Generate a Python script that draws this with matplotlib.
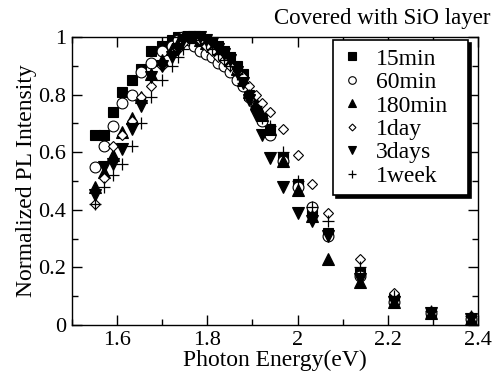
import matplotlib
matplotlib.use("Agg")
import matplotlib.pyplot as plt
from matplotlib.ticker import MultipleLocator

plt.rcParams['font.family'] = ['Liberation Serif', 'DejaVu Serif']

# Photon energy (eV) sample points
energy = [1.550, 1.570, 1.590, 1.610, 1.632, 1.653, 1.676, 1.699, 1.722, 1.734,
          1.746, 1.759, 1.771, 1.784, 1.797, 1.811, 1.824, 1.837, 1.851, 1.865,
          1.879, 1.893, 1.908, 1.922, 1.938, 1.968, 2.000, 2.033, 2.067, 2.138,
          2.214, 2.296, 2.385]

pl_15min = [0.66, 0.66, 0.74, 0.81, 0.85, 0.89, 0.95, 0.97, 0.99, 1.00,
            1.00, 1.00, 1.00, 0.99, 0.99, 0.98, 0.97, 0.95, 0.93, 0.90,
            0.87, 0.80, 0.76, 0.72, 0.68, 0.58, 0.49, 0.40, 0.32, 0.18,
            0.09, 0.04, 0.02]
pl_60min = [0.55, 0.62, 0.69, 0.77, 0.80, 0.88, 0.91, 0.95, 0.97, 0.99,
            1.00, 0.99, 0.97, 0.95, 0.94, 0.93, 0.91, 0.90, 0.88, 0.85,
            0.83, 0.79, 0.76, 0.71, 0.66, 0.57, 0.48, 0.41, 0.31, 0.17,
            0.08, 0.04, 0.02]
pl_180min = [0.48, 0.53, 0.59, 0.67, 0.72, 0.79, 0.87, 0.92, 0.96, 0.98,
             1.00, 1.00, 1.00, 0.99, 0.98, 0.97, 0.96, 0.94, 0.92, 0.89,
             0.85, 0.81, 0.77, 0.73, 0.68, 0.57, 0.47, 0.38, 0.23, 0.15,
             0.08, 0.04, 0.02]
pl_1day = [0.42, 0.51, 0.62, 0.66, 0.71, 0.79, 0.83, 0.90, 0.94, 0.96,
           0.98, 1.00, 1.00, 0.99, 0.97, 0.95, 0.93, 0.92, 0.90, 0.88,
           0.86, 0.83, 0.80, 0.77, 0.74, 0.68, 0.59, 0.49, 0.39, 0.23,
           0.11, 0.05, 0.03]
pl_3days = [0.45, 0.55, 0.56, 0.61, 0.68, 0.76, 0.86, 0.90, 0.93, 0.96,
            0.99, 1.00, 1.00, 1.00, 0.99, 0.98, 0.96, 0.94, 0.92, 0.88,
            0.84, 0.78, 0.73, 0.66, 0.58, 0.48, 0.39, 0.36, 0.31, 0.16,
            0.08, 0.04, 0.02]
pl_1week = [0.42, 0.48, 0.52, 0.56, 0.62, 0.70, 0.79, 0.85, 0.90, 0.93,
            0.96, 0.99, 1.00, 0.99, 0.98, 0.96, 0.94, 0.92, 0.90, 0.87,
            0.84, 0.80, 0.76, 0.72, 0.69, 0.60, 0.50, 0.41, 0.36, 0.20,
            0.10, 0.05, 0.03]

labels = ['15min', '60min', '180min', '1day', '3days', '1week']
series = [pl_15min, pl_60min, pl_180min, pl_1day, pl_3days, pl_1week]
styles = [
    dict(marker='s', ms=7.4, mfc='black', mec='black', mew=0.8),
    dict(marker='o', ms=7.8, mfc='white', mec='black', mew=0.8),
    dict(marker='^', ms=8.2, mfc='black', mec='black', mew=0.8),
    dict(marker='D', ms=5.0, mfc='white', mec='black', mew=0.8),
    dict(marker='v', ms=8.2, mfc='black', mec='black', mew=0.8),
    dict(marker='+', ms=8.5, mfc='black', mec='black', mew=0.9),
]

fig = plt.figure(figsize=(4.98, 3.80), dpi=100)
ax = fig.add_axes([0.1446, 0.1447, 0.8152, 0.7579])

for lab, ys, st in zip(labels, series, styles):
    ax.plot(energy, ys, linestyle='none', label=lab, clip_on=False, **st)

ax.set_xlim(1.5, 2.4)
ax.set_ylim(0, 1)
ax.xaxis.set_minor_locator(MultipleLocator(0.1))
ax.yaxis.set_minor_locator(MultipleLocator(0.1))
ax.set_xticks([1.6, 1.8, 2.0, 2.2, 2.4])
ax.set_xticklabels(['1.6', '1.8', '2', '2.2', '2.4'])
ax.set_yticks([0, 0.2, 0.4, 0.6, 0.8, 1.0])
ax.set_yticklabels(['0', '0.2', '0.4', '0.6', '0.8', '1'])
ax.tick_params(which='both', direction='in', top=True, right=True,
               labelsize=16, width=1)
ax.tick_params(which='major', length=7, pad=4)
ax.tick_params(which='minor', length=4)
for sp in ax.spines.values():
    sp.set_linewidth(1.0)

ax.set_xlabel('Photon Energy(eV)', fontsize=17, labelpad=0)
ax.set_ylabel('Normalized PL Intensity', fontsize=17, labelpad=1)

fig.text(0.985, 0.952, 'Covered with SiO layer', fontsize=16.5,
         ha='right', va='center')

leg = ax.legend(loc='upper left', bbox_to_anchor=(0.643, 0.0, 0.332, 0.99),
                mode='expand',
                fontsize=17, frameon=True, fancybox=False,
                shadow={'color': 'black', 'alpha': 1},
                markerscale=0.7, handlelength=0.9, handletextpad=0.55,
                labelspacing=0.08, borderpad=0.35, borderaxespad=0.0,
                framealpha=1)
leg.get_frame().set_edgecolor('black')
leg.get_frame().set_linewidth(1.2)

fig.savefig('out.png', dpi=100)
